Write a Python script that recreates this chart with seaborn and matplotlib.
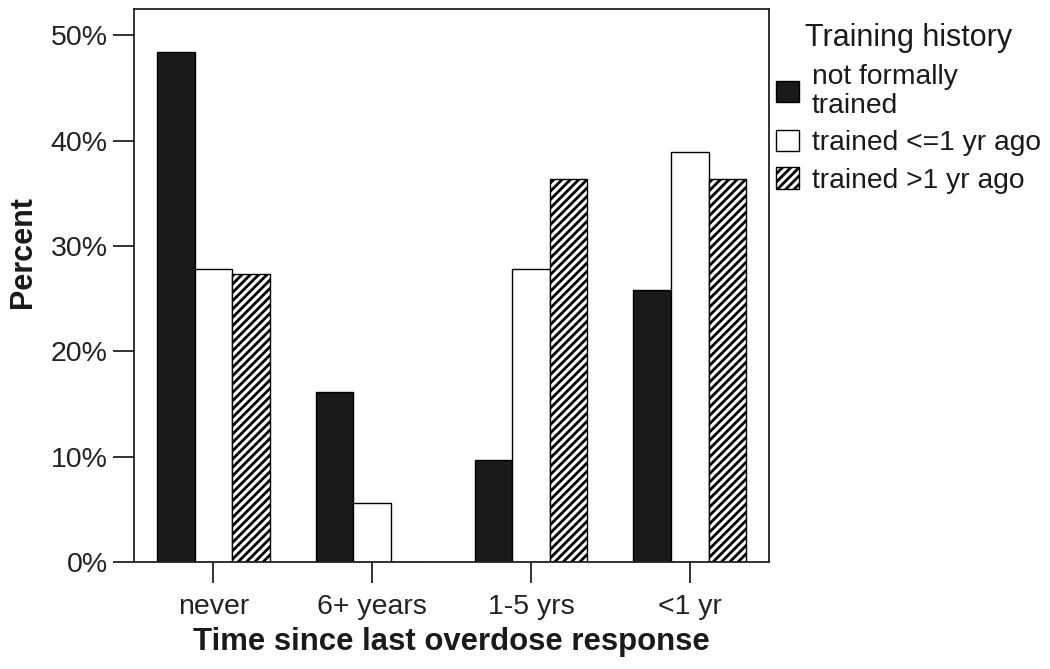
import pandas as pd
import seaborn as sns
import matplotlib.pyplot as plt

# values (percent)
categories = ['never', '6+ years', '1-5 yrs', '<1 yr']
groups = ['not formally\ntrained', 'trained <=1 yr ago', 'trained >1 yr ago']
not_trained = [48.4, 16.1, 9.7, 25.8]
trained_recent = [27.8, 5.6, 27.8, 38.9]
trained_older = [27.3, 0.0, 36.4, 36.4]

df = pd.DataFrame({
    'time': categories * 3,
    'group': [groups[0]] * 4 + [groups[1]] * 4 + [groups[2]] * 4,
    'pct': not_trained + trained_recent + trained_older,
})

sns.set_style('ticks')
plt.rcParams['font.family'] = ['Liberation Sans', 'DejaVu Sans']
plt.rcParams['hatch.linewidth'] = 2.0

fig = plt.figure(figsize=(10.5, 6.69), dpi=100)
ax = fig.add_axes([0.1276, 0.16, 0.605, 0.8265])

sns.barplot(data=df, x='time', y='pct', hue='group', order=categories,
            hue_order=groups, palette=['#1a1a1a', 'white', 'white'],
            edgecolor='black', linewidth=1.0, width=0.71, legend=False, ax=ax)

# hatch the third series
for bar in ax.containers[2]:
    bar.set_hatch('////')

ax.set_xlim(-0.5, 3.5)
ax.set_ylim(0, 52.5)
ax.set_yticks([0, 10, 20, 30, 40, 50])
ax.set_yticklabels([f'{v}%' for v in [0, 10, 20, 30, 40, 50]])
ax.tick_params(axis='both', direction='out', length=15, width=1.3,
               color='#222222', labelcolor='#222222')
ax.tick_params(axis='y', labelsize=20.5, pad=4)
ax.tick_params(axis='x', labelsize=20.5, pad=8)

for s in ax.spines.values():
    s.set_visible(True)
    s.set_linewidth(1.3)
    s.set_color('#222222')

ax.set_xlabel('Time since last overdose response', fontsize=22.4,
              fontweight='bold', labelpad=5, color='#1a1a1a')
ax.set_ylabel('Percent', fontsize=22, fontweight='bold', labelpad=9,
              color='#1a1a1a')
ax.yaxis.label.set_y(0.56)

handles = [c.patches[0] for c in ax.containers]
leg = ax.legend(handles, groups, title='Training history', loc='upper left',
                bbox_to_anchor=(1.0, 0.987), frameon=False, fontsize=20.3,
                title_fontsize=22, handlelength=0.8, handleheight=0.8,
                handletextpad=0.45, labelspacing=0.38, borderaxespad=0.1,
                borderpad=0.15)
for t in leg.get_texts():
    t.set_linespacing(1.15)
    t.set_color('#1a1a1a')
leg.get_title().set_color('#1a1a1a')

plt.savefig('out.png', dpi=100)
